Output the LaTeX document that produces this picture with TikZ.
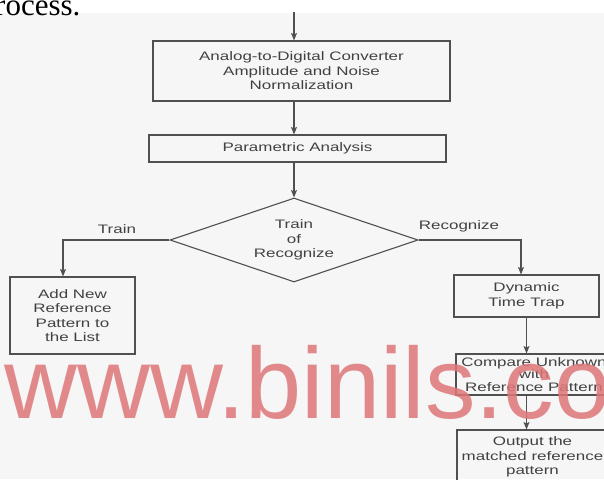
\documentclass[tikz,border=0pt]{standalone}
\usepackage{fontspec}
\newfontfamily\chartfont[FakeStretch=1.38]{Liberation Sans}
\newfontfamily\markfont{Liberation Sans}
\newfontfamily\pagefont{Liberation Serif}
\usetikzlibrary{shapes}
\usetikzlibrary{arrows.meta}
\definecolor{inkgray}{RGB}{65,65,65}
\definecolor{linegray}{RGB}{80,80,80}
\definecolor{markred}{RGB}{222,118,120}
\definecolor{paper}{RGB}{246,246,246}
\tikzset{
	flownode/.style = {align=center, inner sep=0pt, text centered,
		font=\chartfont\fontsize{12.3}{14.5}\selectfont, text=inkgray},
	procbox/.style = {flownode, rectangle, draw=linegray, line width=1.1pt},% boite de traitement
	choice/.style = {flownode, diamond, draw=linegray, line width=1.1pt,
		shape aspect=3},% losange de decision
	branch/.style = {flownode},% etiquette de branche
	flow/.style = {->, draw=linegray, line width=1.1pt}% fleche
}

\begin{document}
\begin{tikzpicture}[x=1pt,y=-1pt,>={Stealth[length=7.5pt,width=6pt,inset=1.5pt]}]
	\useasboundingbox (0,0) rectangle (604,479);
	\clip (0,0) rectangle (604,479);
	\fill[white] (0,0) rectangle (604,479);
	\fill[paper] (0,13) rectangle (604,479);
	\node[font=\pagefont\fontsize{31}{31}\selectfont, anchor=base east] (pagehead) at (84,15) {Process.};

	\node[procbox, minimum width=297pt, minimum height=60pt] (adc) at (301.5,71)
		{Analog-to-Digital Converter\\Amplitude and Noise\\Normalization};
	\node[procbox, minimum width=297pt, minimum height=27pt] (param) at (297.5,148.5)
		{Parametric Analysis};
	\node[choice, minimum width=248pt, minimum height=84pt] (choice) at (294,240)
		{Train\\of\\Recognize};
	\node[procbox, minimum width=125pt, minimum height=77pt] (addref) at (72.5,315.5)
		{Add New\\Reference\\Pattern to\\the List};
	\node[procbox, minimum width=145pt, minimum height=42pt] (dtw) at (526.5,296)
		{Dynamic\\Time Trap};
	\node[procbox, minimum width=156pt, minimum height=41pt,
		font=\chartfont\fontsize{12.3}{12.5}\selectfont] (cmp) at (534,374.5)
		{Compare Unknown\\with\\Reference Pattern};
	\node[procbox, minimum width=151pt, minimum height=54pt] (out) at (532.5,457)
		{Output the\\matched reference\\pattern};
	\node[branch] (trainlbl) at (117,229) {Train};
	\node[branch] (recoglbl) at (459,226) {Recognize};

	\coordinate (start) at (294,12);
	\draw[flow] (start) -- (adc.north -| start);
	\draw[flow] (adc.south -| start) -- (param.north -| start);
	\draw[flow] (param.south -| start) -- (choice.north);
	\draw[flow] (choice.west) -| ([xshift=-9.5pt]addref.north);
	\draw[flow] (choice.east) -| ([xshift=-5.5pt]dtw.north);
	\draw[flow] (dtw.south) -- (dtw.south |- cmp.north);
	\draw[flow] (cmp.south -| dtw.south) -- (out.north -| dtw.south);

	\node[font=\markfont\fontsize{101}{101}\selectfont, text=markred, opacity=0.85,
		anchor=base west, inner sep=0pt] (watermark) at (4,418) {www.binils.co};
\end{tikzpicture}
\end{document}
